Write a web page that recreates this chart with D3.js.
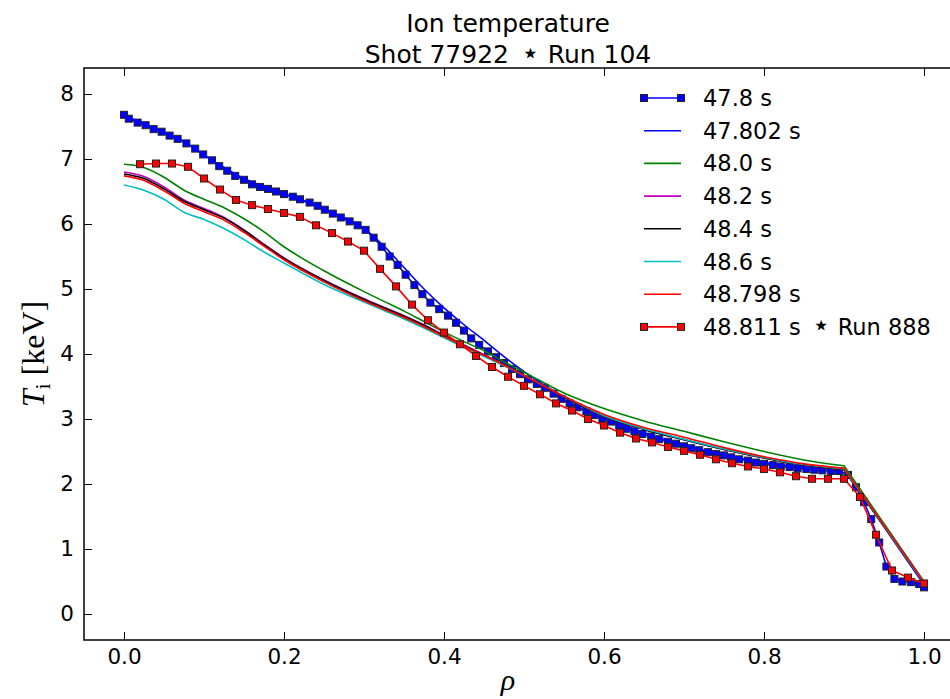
<!DOCTYPE html>
<html>
<head>
<meta charset="utf-8">
<script src="https://cdn.jsdelivr.net/npm/d3@7"></script>
<style>
    body { margin: 0; background: white; }
    text { font-family: 'DejaVu Sans', sans-serif; fill: #000; }
</style>
</head>
<body>
<script>
// rho grid for the smooth (interpolated) profiles
var rhoGrid = [0, 0.025, 0.05, 0.075, 0.1, 0.125, 0.15, 0.175, 0.2, 0.25, 0.3, 0.325, 0.35, 0.375,
    0.4, 0.425, 0.45, 0.475, 0.5, 0.55, 0.6, 0.65, 0.7, 0.75, 0.8, 0.85, 0.9, 1.0];

var ti47802 = [7.66, 7.55, 7.41, 7.27, 7.06, 6.87, 6.70, 6.57, 6.46, 6.23, 5.93, 5.66, 5.33, 5.00,
    4.71, 4.45, 4.21, 3.96, 3.73, 3.34, 3.03, 2.79, 2.60, 2.45, 2.33, 2.26, 2.23, 0.45];
var ti480 = [6.92, 6.87, 6.72, 6.52, 6.38, 6.25, 6.08, 5.88, 5.65, 5.28, 4.96, 4.81, 4.66, 4.50,
    4.34, 4.19, 4.05, 3.88, 3.72, 3.40, 3.16, 2.97, 2.81, 2.65, 2.50, 2.37, 2.28, 0.50];
var ti482 = [6.80, 6.73, 6.57, 6.37, 6.24, 6.10, 5.91, 5.69, 5.48, 5.14, 4.85, 4.72, 4.59, 4.45,
    4.29, 4.14, 3.99, 3.83, 3.67, 3.34, 3.04, 2.84, 2.68, 2.53, 2.40, 2.29, 2.22, 0.48];
var ti484 = [6.77, 6.70, 6.54, 6.35, 6.22, 6.09, 5.90, 5.68, 5.47, 5.13, 4.84, 4.71, 4.58, 4.44,
    4.28, 4.13, 3.98, 3.83, 3.67, 3.34, 3.04, 2.84, 2.68, 2.53, 2.40, 2.29, 2.22, 0.48];
var ti486 = [6.60, 6.52, 6.38, 6.18, 6.07, 5.93, 5.76, 5.57, 5.40, 5.07, 4.80, 4.67, 4.54, 4.40,
    4.25, 4.10, 3.96, 3.82, 3.67, 3.35, 3.05, 2.85, 2.69, 2.54, 2.41, 2.30, 2.23, 0.48];
var ti48798 = [6.74, 6.67, 6.51, 6.32, 6.19, 6.06, 5.87, 5.66, 5.45, 5.11, 4.82, 4.69, 4.56, 4.42,
    4.27, 4.12, 3.98, 3.83, 3.67, 3.35, 3.07, 2.87, 2.72, 2.56, 2.42, 2.31, 2.24, 0.49];

// 47.8 s, measured points
var rho478 = [0.000, 0.006, 0.017, 0.027, 0.037, 0.047, 0.057, 0.067, 0.078, 0.089, 0.099, 0.110,
    0.119, 0.129, 0.139, 0.150, 0.160, 0.170, 0.180, 0.190, 0.200, 0.211, 0.220, 0.232, 0.242,
    0.251, 0.261, 0.271, 0.282, 0.292, 0.302, 0.312, 0.322, 0.332, 0.342, 0.352, 0.363, 0.373,
    0.383, 0.394, 0.405, 0.415, 0.425, 0.434, 0.444, 0.455, 0.465, 0.475, 0.485, 0.495, 0.505,
    0.516, 0.526, 0.537, 0.547, 0.557, 0.567, 0.578, 0.588, 0.598, 0.609, 0.619, 0.628, 0.638,
    0.648, 0.659, 0.669, 0.680, 0.690, 0.700, 0.709, 0.719, 0.730, 0.740, 0.750, 0.759, 0.769,
    0.780, 0.790, 0.800, 0.811, 0.821, 0.832, 0.842, 0.853, 0.863, 0.873, 0.884, 0.894, 0.905,
    0.915, 0.925, 0.934, 0.944, 0.953, 0.963, 0.973, 0.984, 0.994, 1.000];
var ti478 = [7.68, 7.62, 7.56, 7.52, 7.46, 7.42, 7.36, 7.31, 7.24, 7.16, 7.07, 6.98,
    6.89, 6.82, 6.74, 6.68, 6.61, 6.57, 6.54, 6.50, 6.46, 6.42, 6.38, 6.33, 6.28,
    6.22, 6.16, 6.10, 6.04, 5.98, 5.91, 5.79, 5.65, 5.50, 5.37, 5.22, 5.06, 4.92,
    4.79, 4.69, 4.59, 4.48, 4.36, 4.24, 4.14, 4.04, 3.95, 3.86, 3.77, 3.69, 3.61,
    3.54, 3.48, 3.39, 3.31, 3.24, 3.18, 3.12, 3.06, 3.00, 2.96, 2.90, 2.85, 2.81,
    2.77, 2.73, 2.69, 2.65, 2.62, 2.58, 2.55, 2.52, 2.49, 2.46, 2.44, 2.41, 2.38,
    2.36, 2.33, 2.31, 2.29, 2.27, 2.26, 2.24, 2.23, 2.22, 2.21, 2.20, 2.20, 2.14,
    1.95, 1.72, 1.46, 1.10, 0.73, 0.54, 0.50, 0.49, 0.46, 0.41];

// 48.811 s, Run 888
var rho48811 = [0.02, 0.04, 0.06, 0.08, 0.10, 0.12, 0.14, 0.16, 0.18, 0.20, 0.22, 0.24, 0.26,
    0.28, 0.30, 0.32, 0.34, 0.36, 0.38, 0.40, 0.42, 0.44, 0.46, 0.48, 0.50, 0.52, 0.54, 0.56,
    0.58, 0.60, 0.62, 0.64, 0.66, 0.68, 0.70, 0.72, 0.74, 0.76, 0.78, 0.80, 0.82, 0.84, 0.86,
    0.88, 0.90, 0.92, 0.94, 0.96, 0.98, 1.00];
var ti48811 = [6.92, 6.93, 6.93, 6.88, 6.70, 6.53, 6.37, 6.29, 6.23, 6.17, 6.11, 5.98, 5.86,
    5.73, 5.59, 5.31, 5.04, 4.76, 4.52, 4.33, 4.15, 3.97, 3.80, 3.65, 3.51, 3.38, 3.24, 3.13,
    3.00, 2.90, 2.79, 2.70, 2.64, 2.57, 2.51, 2.45, 2.38, 2.32, 2.27, 2.23, 2.18, 2.12, 2.08,
    2.08, 2.08, 1.80, 1.22, 0.67, 0.56, 0.47];

var xTicks = [0.0, 0.2, 0.4, 0.6, 0.8, 1.0];
var yTicks = [0, 1, 2, 3, 4, 5, 6, 7, 8];

var series = [
    {label: ['47.8 s'], rho: rho478, ti: ti478, color: '#0000ff', marker: true, smooth: false},
    {label: ['47.802 s'], rho: rhoGrid, ti: ti47802, color: '#0000ff', marker: false, smooth: true},
    {label: ['48.0 s'], rho: rhoGrid, ti: ti480, color: '#008000', marker: false, smooth: true},
    {label: ['48.2 s'], rho: rhoGrid, ti: ti482, color: '#bf00bf', marker: false, smooth: true},
    {label: ['48.4 s'], rho: rhoGrid, ti: ti484, color: '#000000', marker: false, smooth: true},
    {label: ['48.6 s'], rho: rhoGrid, ti: ti486, color: '#00bfbf', marker: false, smooth: true},
    {label: ['48.798 s'], rho: rhoGrid, ti: ti48798, color: '#ff0000', marker: false, smooth: true},
    {label: ['48.811 s', 'Run 888'], rho: rho48811, ti: ti48811, color: '#ff0000', marker: true, smooth: false}
];

var svg = d3.select('body').append('svg')
    .attr('width', 950)
    .attr('height', 699);

var x = d3.scaleLinear().domain([-0.05, 1.05]).range([84, 964]);
var y = d3.scaleLinear().domain([-0.4, 8.4]).range([640, 68]);

function addMarker(parent, cx, cy, color) {
    parent.append('rect')
        .attr('x', cx - 3.5)
        .attr('y', cy - 3.5)
        .attr('width', 7)
        .attr('height', 7)
        .style('fill', color)
        .style('stroke', '#222')
        .style('stroke-width', 1);
}

// text with a star between two parts
function starText(el, parts, gapBefore, gapAfter, starSize) {
    el.append('tspan').text(parts[0]);
    el.append('tspan')
        .attr('dx', gapBefore)
        .style('font-size', starSize)
        .text('\u22c6');
    el.append('tspan')
        .attr('dx', gapAfter)
        .text(parts[1]);
}

// curves
var smoothLine = d3.line()
    .x(function(d) { return x(d[0]); })
    .y(function(d) { return y(d[1]); })
    .curve(d3.curveMonotoneX);
var straightLine = d3.line()
    .x(function(d) { return x(d[0]); })
    .y(function(d) { return y(d[1]); });

series.forEach(function(s) {
    var pts = s.rho.map(function(r, i) { return [r, s.ti[i]]; });
    var path;
    if (s.smooth) {
        // smooth up to the pedestal at 0.9, then a straight edge
        var core = pts.filter(function(p) { return p[0] <= 0.9; });
        var last = pts[pts.length - 1];
        path = smoothLine(core) + 'L' + x(last[0]) + ',' + y(last[1]);
    } else {
        path = straightLine(pts);
    }
    svg.append('path')
        .attr('d', path)
        .style('fill', 'none')
        .style('stroke', s.color)
        .style('stroke-width', 1.6)
        .style('stroke-linejoin', 'round');
    if (s.marker) {
        var g = svg.append('g');
        pts.forEach(function(p) {
            addMarker(g, x(p[0]), y(p[1]), s.color);
        });
    }
});

// axes (ticks point inward)
svg.append('g')
    .attr('transform', 'translate(0,640)')
    .call(d3.axisBottom(x).tickValues(xTicks).tickFormat(d3.format('.1f')).tickSize(-8).tickPadding(9))
    .call(function(g) { g.select('.domain').remove(); })
    .selectAll('text').style('font-size', '21.5px').style('font-family', 'DejaVu Sans');
svg.append('g')
    .attr('transform', 'translate(0,68)')
    .call(d3.axisTop(x).tickValues(xTicks).tickFormat('').tickSize(-8))
    .call(function(g) { g.select('.domain').remove(); });
svg.append('g')
    .attr('transform', 'translate(84,0)')
    .call(d3.axisLeft(y).tickValues(yTicks).tickFormat(d3.format('d')).tickSize(-8).tickPadding(10))
    .call(function(g) { g.select('.domain').remove(); })
    .selectAll('text').style('font-size', '21.5px').style('font-family', 'DejaVu Sans');
svg.append('g')
    .attr('transform', 'translate(964,0)')
    .call(d3.axisRight(y).tickValues(yTicks).tickFormat('').tickSize(-8))
    .call(function(g) { g.select('.domain').remove(); });
svg.selectAll('.tick line').style('stroke', '#000').style('stroke-width', 1);

svg.append('rect')
    .attr('x', 84)
    .attr('y', 68)
    .attr('width', 880)
    .attr('height', 572)
    .style('fill', 'none')
    .style('stroke', '#000')
    .style('stroke-width', 1.5);

// titles
svg.append('text')
    .attr('x', 508)
    .attr('y', 32)
    .attr('text-anchor', 'middle')
    .style('font-size', '25px')
    .text('Ion temperature');
var sub = svg.append('text')
    .attr('x', 508)
    .attr('y', 63)
    .attr('text-anchor', 'middle')
    .style('font-size', '25px');
starText(sub, ['Shot 77922 ', ' Run 104'], 4, 0, '30px');

// axis labels
svg.append('text')
    .attr('x', 508)
    .attr('y', 690)
    .attr('text-anchor', 'middle')
    .style('font-family', 'Liberation Serif, serif')
    .style('font-style', 'italic')
    .style('font-size', '30px')
    .text('\u03c1');

var ylab = svg.append('text')
    .attr('transform', 'translate(44,354) rotate(-90)')
    .attr('text-anchor', 'middle')
    .style('font-family', 'Liberation Serif, serif')
    .style('font-size', '32px');
ylab.append('tspan').style('font-style', 'italic').text('T');
ylab.append('tspan').attr('dy', 6).style('font-size', '22px').text('i');
ylab.append('tspan').attr('dy', -6).text(' [keV]');

// legend
var legend = svg.append('g');
series.forEach(function(s, i) {
    var ly = 98 + i * 32.7;
    legend.append('line')
        .attr('x1', 644)
        .attr('x2', 681)
        .attr('y1', ly)
        .attr('y2', ly)
        .style('stroke', s.color)
        .style('stroke-width', 1.6);
    if (s.marker) {
        addMarker(legend, 644, ly, s.color);
        addMarker(legend, 681, ly, s.color);
    }
    var t = legend.append('text')
        .attr('x', 703)
        .attr('y', ly + 8)
        .style('font-size', '22.5px');
    if (s.label.length > 1) {
        starText(t, [s.label[0] + ' ', ' ' + s.label[1]], 4, 0, '30px');
    } else {
        t.text(s.label[0]);
    }
});
</script>
</body>
</html>
